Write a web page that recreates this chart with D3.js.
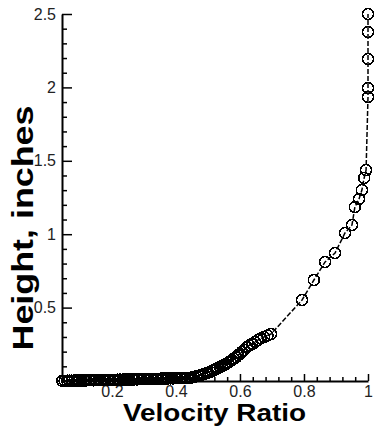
<!DOCTYPE html>
<html>
<head>
<meta charset="utf-8">
<script src="https://cdn.jsdelivr.net/npm/d3@7"></script>
<style>
  body { margin: 0; background: #fff; }
  svg { display: block; font-family: "Liberation Sans", Arial, sans-serif; }
</style>
</head>
<body>
<div id="graph"></div>
<script>
// velocity ratio (x) and height in inches (y)
const velocity = [
  0.045, 0.052, 0.06, 0.067, 0.075, 0.083, 0.09, 0.098, 0.105, 0.113, 0.12,
  0.128, 0.135, 0.143, 0.15, 0.158, 0.165, 0.173, 0.18, 0.188, 0.195, 0.203,
  0.21, 0.218, 0.225, 0.233, 0.24, 0.248, 0.255, 0.263, 0.27, 0.278, 0.285,
  0.293, 0.3, 0.308, 0.315, 0.323, 0.33, 0.338, 0.345, 0.353, 0.36, 0.368,
  0.375, 0.383, 0.39, 0.398, 0.405, 0.413, 0.42, 0.428, 0.435, 0.443,
  0.45, 0.456, 0.463, 0.47, 0.476, 0.481, 0.488, 0.494, 0.5, 0.507, 0.513,
  0.519, 0.525, 0.531, 0.538, 0.544, 0.55, 0.556, 0.563, 0.569, 0.575, 0.581,
  0.588, 0.594, 0.6, 0.606, 0.613, 0.622, 0.63, 0.638, 0.647, 0.656, 0.665,
  0.675, 0.686, 0.697,
  0.794, 0.831, 0.866, 0.897, 0.928, 0.95, 0.959, 0.972, 0.981, 0.988, 0.994,
  1.0, 1.0, 1.0, 1.0, 1.0
];
const height = [
  0.001, 0.001, 0.002, 0.002, 0.002, 0.003, 0.003, 0.003, 0.004, 0.004, 0.004,
  0.005, 0.005, 0.005, 0.006, 0.006, 0.006, 0.007, 0.007, 0.007, 0.008, 0.008,
  0.008, 0.009, 0.009, 0.009, 0.010, 0.010, 0.010, 0.011, 0.011, 0.011, 0.012,
  0.012, 0.012, 0.013, 0.013, 0.014, 0.014, 0.015, 0.015, 0.016, 0.016, 0.017,
  0.017, 0.018, 0.018, 0.019, 0.019, 0.020, 0.020, 0.021, 0.021, 0.022,
  0.024, 0.027, 0.031, 0.035, 0.039, 0.043, 0.048, 0.052, 0.057, 0.063, 0.069,
  0.075, 0.082, 0.089, 0.095, 0.102, 0.109, 0.116, 0.125, 0.134, 0.143, 0.152,
  0.162, 0.175, 0.186, 0.198, 0.212, 0.232, 0.243, 0.252, 0.266, 0.279, 0.290,
  0.300, 0.310, 0.320,
  0.552, 0.688, 0.811, 0.872, 1.008, 1.063, 1.185, 1.240, 1.301, 1.383, 1.437,
  1.935, 1.996, 2.193, 2.377, 2.5
];
const xTicks = [0.2, 0.4, 0.6, 0.8, 1];
const yTicks = [0.5, 1, 1.5, 2, 2.5];

const width = 375, heightPx = 434;

const svg = d3.select("div#graph")
  .append("svg")
  .attr("width", width)
  .attr("height", heightPx);

const xScale = d3.scaleLinear().domain([0.044, 1]).range([62, 368]);
const yScale = d3.scaleLinear().domain([0, 2.5]).range([381, 14]);

const points = velocity.map((v, i) => ({ v: v, h: height[i] }));

// minor ticks
const xMinor = d3.range(0.08, 1.001, 0.04).filter(t => Math.abs(t * 5 - Math.round(t * 5)) > 1e-6);
const yMinor = d3.range(0.1, 2.501, 0.1).filter(t => Math.abs(t * 2 - Math.round(t * 2)) > 1e-6);

svg.append("g")
  .attr("transform", "translate(0,381)")
  .call(d3.axisBottom(xScale).tickValues(xMinor).tickSizeInner(-4).tickSizeOuter(0).tickFormat(""))
  .call(g => g.select(".domain").remove());

svg.append("g")
  .attr("transform", "translate(62,0)")
  .call(d3.axisLeft(yScale).tickValues(yMinor).tickSizeInner(-5).tickSizeOuter(0).tickFormat(""))
  .call(g => g.select(".domain").remove());

// major axes
svg.append("g")
  .attr("transform", "translate(0,381)")
  .call(d3.axisBottom(xScale).tickValues(xTicks).tickSizeInner(-7).tickSizeOuter(0)
    .tickPadding(5).tickFormat(d3.format("")));

svg.append("g")
  .attr("transform", "translate(62,0)")
  .call(d3.axisLeft(yScale).tickValues(yTicks).tickSizeInner(-10).tickSizeOuter(0)
    .tickPadding(6).tickFormat(d3.format("")));

svg.selectAll(".tick line").attr("stroke", "#000").attr("stroke-width", 1.5);
svg.selectAll(".domain").attr("stroke", "#000").attr("stroke-width", 2);
svg.selectAll(".tick text")
  .attr("fill", "#222")
  .style("font-size", "16px")
  .style("font-family", "'Liberation Sans', Arial, sans-serif");

// curve
const line = d3.line()
  .x(d => xScale(d.v))
  .y(d => yScale(d.h));

svg.append("path")
  .datum(points)
  .attr("fill", "none")
  .attr("stroke", "#000")
  .attr("stroke-width", 1.5)
  .attr("stroke-dasharray", "5,2")
  .attr("d", line);

svg.append("g")
  .selectAll("circle")
  .data(points)
  .join("circle")
  .attr("cx", d => xScale(d.v))
  .attr("cy", d => yScale(d.h))
  .attr("r", 5.5)
  .attr("fill", "none")
  .attr("stroke", "#000")
  .attr("stroke-width", 1.6)
  .attr("shape-rendering", "crispEdges");

// axis titles
svg.append("text")
  .attr("x", 214.5)
  .attr("y", 421)
  .attr("text-anchor", "middle")
  .attr("textLength", 183)
  .attr("lengthAdjust", "spacingAndGlyphs")
  .style("font-size", "24px")
  .style("font-weight", "bold")
  .text("Velocity Ratio");

svg.append("text")
  .attr("transform", "translate(33,228) rotate(-90)")
  .attr("text-anchor", "middle")
  .attr("textLength", 245)
  .attr("lengthAdjust", "spacingAndGlyphs")
  .style("font-size", "29px")
  .style("font-weight", "bold")
  .text("Height, inches");
</script>
</body>
</html>
